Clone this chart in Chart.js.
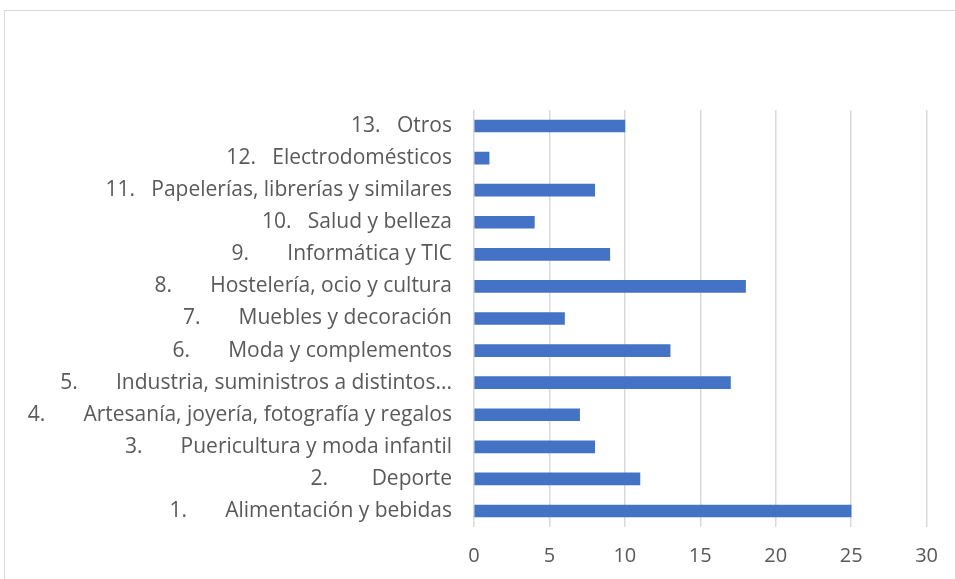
<!DOCTYPE html>
<html>
<head>
<meta charset="utf-8">
<script src="https://cdn.jsdelivr.net/npm/chart.js@4.4.1/dist/chart.umd.min.js"></script>
<style>
  html, body { margin: 0; padding: 0; background: #fff; }
  .frame { position: absolute; left: 4px; top: 10px; width: 1000px; height: 600px; border: 1.5px solid #d9d9d9; }
  .wrap { position: absolute; left: 0; top: 0; width: 955px; height: 579px; }
</style>
</head>
<body>
<div class="frame"></div>
<div class="wrap"><canvas id="chart"></canvas></div>
<script>
// categories, top to bottom as shown
const categories = [
  '13.   Otros',
  '12.   Electrodomésticos',
  '11.   Papelerías, librerías y similares',
  '10.   Salud y belleza',
  '9.       Informática y TIC',
  '8.       Hostelería, ocio y cultura',
  '7.       Muebles y decoración',
  '6.       Moda y complementos',
  '5.       Industria, suministros a distintos...',
  '4.       Artesanía, joyería, fotografía y regalos',
  '3.       Puericultura y moda infantil',
  '2.        Deporte',
  '1.       Alimentación y bebidas'
];
const values = [10, 1, 8, 4, 9, 18, 6, 13, 17, 7, 8, 11, 25];
const xTicks = [0, 5, 10, 15, 20, 25, 30];

const textColor = '#595959';

new Chart(document.getElementById('chart'), {
  type: 'bar',
  data: {
    labels: categories,
    datasets: [{
      data: values,
      backgroundColor: '#4472C4',
      barThickness: 12
    }]
  },
  options: {
    indexAxis: 'y',
    responsive: true,
    maintainAspectRatio: false,
    animation: false,
    layout: { padding: { left: 0, top: 110, right: 27, bottom: 0 } },
    plugins: { legend: { display: false }, tooltip: { enabled: false } },
    scales: {
      x: {
        min: 0,
        max: 30,
        afterBuildTicks: (s) => { s.ticks = xTicks.map(v => ({ value: v })); },
        ticks: { color: textColor, font: { family: 'Open Sans', size: 20 }, padding: 17 },
        grid: { color: '#d9d9d9', lineWidth: 1.5, drawTicks: false },
        border: { display: false },
        afterFit: (s) => { s.height = 52; }
      },
      y: {
        ticks: { color: textColor, font: { family: 'Open Sans', size: 21 }, padding: 14, autoSkip: false },
        grid: { display: false },
        border: { display: false },
        afterFit: (s) => { s.width = 474; }
      }
    }
  }
});
</script>
</body>
</html>
